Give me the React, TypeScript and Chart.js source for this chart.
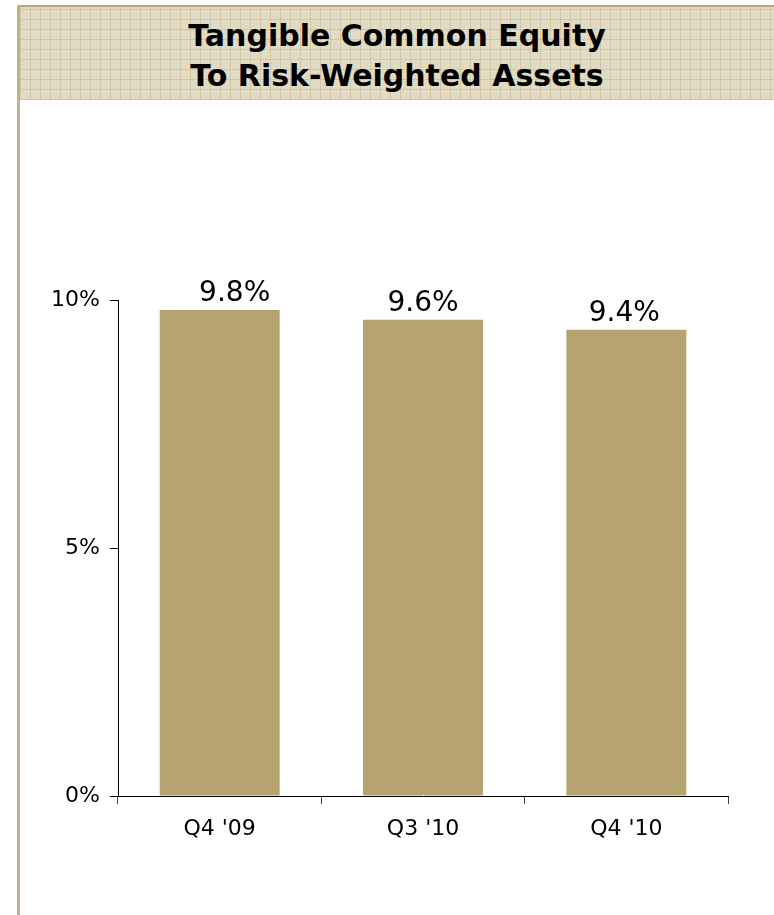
import React, { useEffect, useRef } from "react";
import { Chart, registerables } from "chart.js";

Chart.register(...registerables);

const titleLines = ["Tangible Common Equity", "To Risk-Weighted Assets"];
const categories = ["Q4 '09", "Q3 '10", "Q4 '10"];
const values = [9.8, 9.6, 9.4];
const valueLabels = ["9.8%", "9.6%", "9.4%"];
const yTicks = [0, 5, 10];

const FONT = "'DejaVu Sans', sans-serif";
const labelShift = [15, 0, -2];

const labelPlugin = {
  id: "barLabels",
  afterDatasetsDraw(chart: any) {
    const ctx = chart.ctx;
    const meta = chart.getDatasetMeta(0);
    ctx.save();
    ctx.font = `28px ${FONT}`;
    ctx.fillStyle = "#000";
    ctx.textAlign = "center";
    ctx.textBaseline = "alphabetic";
    meta.data.forEach((bar: any, i: number) => {
      ctx.fillText(valueLabels[i], bar.x + labelShift[i], bar.y - 9);
    });
    ctx.restore();
  },
};

export default function App() {
  const ref = useRef<HTMLCanvasElement>(null);
  useEffect(() => {
    if (!ref.current) return;
    const chart = new Chart(ref.current, {
      type: "bar",
      data: {
        labels: categories,
        datasets: [
          {
            data: values,
            backgroundColor: "#b5a470",
            borderWidth: 0,
            categoryPercentage: 1,
            barPercentage: 0.59,
          },
        ],
      },
      options: {
        responsive: false,
        animation: false,
        layout: { padding: { top: 200, right: 46, left: 0, bottom: 0 } },
        plugins: { legend: { display: false }, tooltip: { enabled: false } },
        scales: {
          x: {
            grid: {
              display: true,
              drawOnChartArea: false,
              drawTicks: true,
              tickLength: 8,
              color: "#444",
              offset: true,
            },
            border: { display: true, color: "#000", width: 1 },
            ticks: { color: "#000", font: { family: FONT, size: 22 }, padding: 12 },
            afterFit(scale: any) {
              scale.height = 119;
            },
          },
          y: {
            min: 0,
            max: 10,
            afterBuildTicks(scale: any) {
              scale.ticks = yTicks.map((v) => ({ value: v }));
            },
            grid: {
              display: true,
              drawOnChartArea: false,
              drawTicks: true,
              tickLength: 8,
              color: "#000",
            },
            border: { display: true, color: "#000", width: 1 },
            ticks: {
              color: "#000",
              font: { family: FONT, size: 22 },
              padding: 10,
              callback: (v: any) => `${v}%`,
            },
            afterFit(scale: any) {
              scale.width = 98;
            },
          },
        },
      },
      plugins: [labelPlugin],
    });
    return () => chart.destroy();
  }, []);

  const grid =
    "repeating-linear-gradient(0deg, rgba(185,168,120,0.4) 0px, rgba(185,168,120,0.4) 1px, transparent 1px, transparent 10px)," +
    "repeating-linear-gradient(90deg, rgba(185,168,120,0.4) 0px, rgba(185,168,120,0.4) 1px, transparent 1px, transparent 10px)";

  return (
    <div
      style={{
        position: "absolute",
        left: 0,
        top: 0,
        width: 774,
        height: 915,
        overflow: "hidden",
        background: "#fff",
      }}
    >
      <div
        style={{
          position: "absolute",
          left: 17,
          top: 5,
          width: 3,
          height: 910,
          background: "#c2b284",
        }}
      />
      <div
        style={{
          position: "absolute",
          left: 20,
          top: 5,
          width: 754,
          height: 95,
          borderTop: "2px solid #b9a877",
          boxSizing: "border-box",
          backgroundColor: "#e2dbc4",
          backgroundImage: grid,
          display: "flex",
          flexDirection: "column",
          alignItems: "center",
          justifyContent: "center",
          fontFamily: FONT,
          fontWeight: "bold",
          fontSize: 30,
          lineHeight: "40px",
          color: "#000",
          paddingTop: 4,
        }}
      >
        {titleLines.map((t) => (
          <div key={t}>{t}</div>
        ))}
      </div>
      <canvas
        ref={ref}
        width={754}
        height={815}
        style={{ position: "absolute", left: 20, top: 100, width: 754, height: 815 }}
      />
    </div>
  );
}
